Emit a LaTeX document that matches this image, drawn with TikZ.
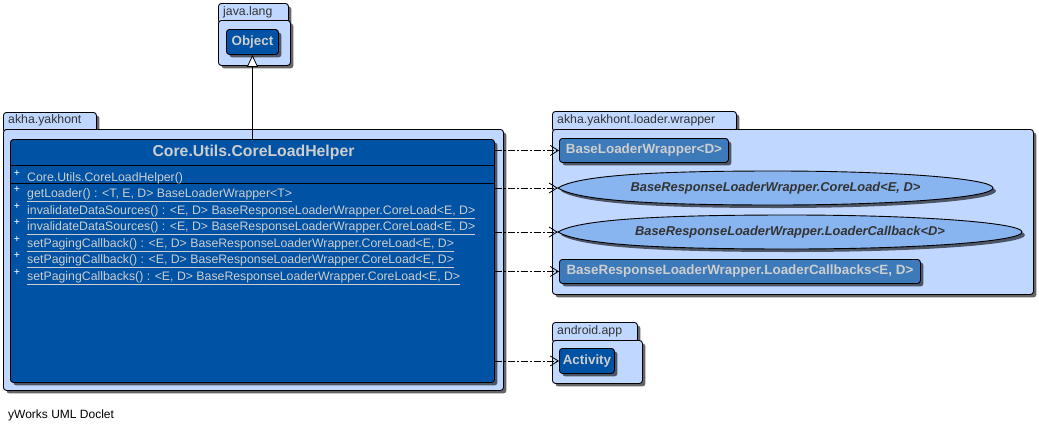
\documentclass[tikz,border=0pt]{standalone}
\usepackage{fontspec}
\setmainfont{Liberation Sans}
\usetikzlibrary{arrows.meta,shadows,shapes.geometric}

\definecolor{pkgfill}{RGB}{192,216,255}
\definecolor{clsfill}{RGB}{0,82,164}
\definecolor{refill}{RGB}{60,122,186}
\definecolor{ifill}{RGB}{136,180,240}
\definecolor{lighttext}{RGB}{206,206,206}
\definecolor{darktext}{RGB}{51,51,51}

\newcommand\fs[1]{\fontsize{#1}{#1}\selectfont}

% interface outline: pointed on the left, rounded on the right
% #1 = left x, #2 = right x, #3 = centre y, #4 = height
\newcommand\lenspath[4]{%
  \pgfmathsetmacro\la{(#2-#1)/2}%
  \pgfmathsetmacro\lb{#4/2}%
  \pgfmathsetmacro\lm{(#1+#2)/2}%
  \path[lensfill] (#1,#3)
    .. controls ({#1+0.1*\la},{#3-0.85*\lb}) and ({\lm-0.45*\la},{#3-\lb}) .. (\lm,{#3-\lb})
    .. controls ({\lm+0.552*\la},{#3-\lb}) and (#2,{#3-0.552*\lb}) .. (#2,#3)
    .. controls (#2,{#3+0.552*\lb}) and ({\lm+0.552*\la},{#3+\lb}) .. (\lm,{#3+\lb})
    .. controls ({\lm-0.45*\la},{#3+\lb}) and ({#1+0.1*\la},{#3+0.85*\lb}) .. cycle;}

\begin{document}
\begin{tikzpicture}[x=1pt,y=-1pt,
  shd/.style={drop shadow={shadow xshift=3pt,shadow yshift=-3pt,fill=black,opacity=0.6}},
  box/.style={rectangle,anchor=north west,inner sep=0pt,draw=black,line width=0.9pt},
  pkgpart/.style={box,fill=pkgfill,rounded corners=3pt,shd},
  pkglabel/.style={anchor=west,inner sep=0pt,font=\fs{12.3},text=darktext},
  classbox/.style={box,fill=clsfill,rounded corners=3pt,shd,font=\bfseries\fs{13.4},text=lighttext},
  refbox/.style={box,fill=refill,rounded corners=3pt,shd,font=\bfseries\fs{13.4},text=lighttext},
  lensfill/.style={draw=black,line width=0.9pt,fill=ifill,shd},
  iface/.style={ellipse,inner sep=0pt,font=\bfseries\itshape\fs{12.85},text=darktext},
  member/.style={anchor=base west,inner sep=0pt,font=\fs{12.3},text=lighttext},
  vis/.style={anchor=center,inner sep=0pt,font=\fs{10.5},text=white},
  divider/.style={line width=0.9pt,draw=black},
  dep/.style={line width=0.8pt,dash pattern=on 7pt off 2pt on 2pt off 2pt,
    -{Straight Barb[length=8pt,width=10pt,line width=0.8pt]}},
  inh/.style={line width=0.8pt,-{Triangle[length=12pt,width=11pt,fill=white,line width=0.8pt]}}
]
\useasboundingbox (0,0) rectangle (1039,432);

% package java.lang
\node[pkgpart,minimum width=70pt,minimum height=20pt] (jltab) at (218,3) {};
\node[pkgpart,minimum width=72pt,minimum height=45pt] (jlbody) at (218,20) {};
\node[pkglabel] (jllabel) at (223,12) {java.lang};
\node[classbox,minimum width=52pt,minimum height=25pt] (obj) at (226,29) {Object};

% package akha.yakhont
\node[pkgpart,minimum width=93pt,minimum height=20pt] (aytab) at (3,112) {};
\node[pkgpart,minimum width=500pt,minimum height=261pt] (aybody) at (3,129) {};
\node[pkglabel] (aylabel) at (8,120) {akha.yakhont};

% class Core.Utils.CoreLoadHelper
\node[classbox,minimum width=484pt,minimum height=243pt] (cls) at (10,139) {};
\node[anchor=center,inner sep=0pt,font=\bfseries\fs{15.8},text=lighttext] (title) at (253.5,152) {Core.Utils.CoreLoadHelper};
\draw[divider] (10,165) -- (494,165);
\draw[divider] (10,183) -- (494,183);

\node[vis] (v0) at (17,173) {+};
\node[member] (m0) at (27,181) {Core.Utils.CoreLoadHelper()};
\node[vis] (v1) at (17,189.5) {+};
\node[member] (m1) at (27,197.5) {\underline{getLoader() : <T, E, D> BaseLoaderWrapper<T>}};
\node[vis] (v2) at (17,206) {+};
\node[member] (m2) at (27,214) {\underline{invalidateDataSources() : <E, D> BaseResponseLoaderWrapper.CoreLoad<E, D>}};
\node[vis] (v3) at (17,222.5) {+};
\node[member] (m3) at (27,230.5) {\underline{invalidateDataSources() : <E, D> BaseResponseLoaderWrapper.CoreLoad<E, D>}};
\node[vis] (v4) at (17,239) {+};
\node[member] (m4) at (27,247) {\underline{setPagingCallback() : <E, D> BaseResponseLoaderWrapper.CoreLoad<E, D>}};
\node[vis] (v5) at (17,255.5) {+};
\node[member] (m5) at (27,263.5) {\underline{setPagingCallback() : <E, D> BaseResponseLoaderWrapper.CoreLoad<E, D>}};
\node[vis] (v6) at (17,272.5) {+};
\node[member] (m6) at (27,280.5) {\underline{setPagingCallbacks() : <E, D> BaseResponseLoaderWrapper.CoreLoad<E, D>}};

% package akha.yakhont.loader.wrapper
\node[pkgpart,minimum width=184pt,minimum height=20pt] (lwtab) at (552,111) {};
\node[pkgpart,minimum width=481pt,minimum height=165pt] (lwbody) at (552,129) {};
\node[pkglabel] (lwlabel) at (557,120) {akha.yakhont.loader.wrapper};
\node[refbox,minimum width=169pt,minimum height=24pt] (blw) at (559,138) {BaseLoaderWrapper<D>};
\lenspath{558}{993}{188}{34}
\node[iface,minimum width=435pt,minimum height=34pt] (cl) at (775.5,188) {BaseResponseLoaderWrapper.CoreLoad<E, D>};
\lenspath{558}{1022}{232}{34}
\node[iface,minimum width=464pt,minimum height=34pt] (lcb) at (790,232) {BaseResponseLoaderWrapper.LoaderCallback<D>};
\node[refbox,minimum width=361pt,minimum height=24pt] (lcbs) at (559,259) {BaseResponseLoaderWrapper.LoaderCallbacks<E, D>};

% package android.app
\node[pkgpart,minimum width=85pt,minimum height=20pt] (aatab) at (552,322) {};
\node[pkgpart,minimum width=90pt,minimum height=43pt] (aabody) at (552,340) {};
\node[pkglabel] (aalabel) at (557,331) {android.app};
\node[classbox,minimum width=55pt,minimum height=25pt] (act) at (559,348) {Activity};

% relations
\draw[inh] (cls.north) -- (obj.south);
\draw[dep] (cls.east |- blw.west) -- (blw.west);
\draw[dep] (cls.east |- cl.west) -- (cl.west);
\draw[dep] (cls.east |- lcb.west) -- (lcb.west);
\draw[dep] (cls.east |- lcbs.west) -- (lcbs.west);
\draw[dep] (cls.east |- act.west) -- (act.west);

\node[anchor=base west,inner sep=0pt,font=\fs{12}] (foot) at (8,418) {yWorks UML Doclet};
\end{tikzpicture}
\end{document}
